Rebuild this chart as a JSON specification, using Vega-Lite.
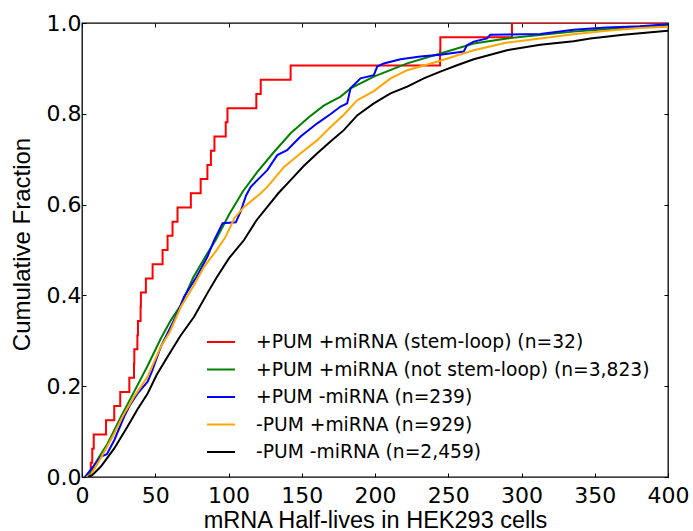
{
  "$schema": "https://vega.github.io/schema/vega-lite/v6.json",
  "width": 586,
  "height": 454,
  "autosize": {"type": "none"},
  "padding": {"left": 82, "top": 23, "right": 25, "bottom": 54},
  "background": "white",
  "config": {
    "view": {"stroke": "black", "strokeWidth": 1.3},
    "axis": {
      "labelFont": "DejaVu Sans",
      "labelFontSize": 22,
      "labelColor": "black",
      "tickColor": "black",
      "tickSize": -4,
      "tickWidth": 1,
      "domain": false,
      "grid": false,
      "labelFlush": false,
      "labelOverlap": false,
      "titleFont": "Liberation Sans",
      "titleFontSize": 24,
      "titleFontWeight": "normal",
      "titleColor": "black"
    }
  },
  "datasets": {
    "red": [
      {"series": "+PUM +miRNA (stem-loop) (n=32)", "x": 5.8, "y": 0},
      {"series": "+PUM +miRNA (stem-loop) (n=32)", "x": 6.0, "y": 0.03125},
      {"series": "+PUM +miRNA (stem-loop) (n=32)", "x": 7.0, "y": 0.0625},
      {"series": "+PUM +miRNA (stem-loop) (n=32)", "x": 8.0, "y": 0.09375},
      {"series": "+PUM +miRNA (stem-loop) (n=32)", "x": 16.4, "y": 0.125},
      {"series": "+PUM +miRNA (stem-loop) (n=32)", "x": 22.0, "y": 0.15625},
      {"series": "+PUM +miRNA (stem-loop) (n=32)", "x": 26.1, "y": 0.1875},
      {"series": "+PUM +miRNA (stem-loop) (n=32)", "x": 32.3, "y": 0.21875},
      {"series": "+PUM +miRNA (stem-loop) (n=32)", "x": 35.5, "y": 0.25},
      {"series": "+PUM +miRNA (stem-loop) (n=32)", "x": 35.7, "y": 0.28125},
      {"series": "+PUM +miRNA (stem-loop) (n=32)", "x": 37.8, "y": 0.3125},
      {"series": "+PUM +miRNA (stem-loop) (n=32)", "x": 38.2, "y": 0.34375},
      {"series": "+PUM +miRNA (stem-loop) (n=32)", "x": 40.0, "y": 0.375},
      {"series": "+PUM +miRNA (stem-loop) (n=32)", "x": 40.2, "y": 0.40625},
      {"series": "+PUM +miRNA (stem-loop) (n=32)", "x": 43.6, "y": 0.4375},
      {"series": "+PUM +miRNA (stem-loop) (n=32)", "x": 48.2, "y": 0.46875},
      {"series": "+PUM +miRNA (stem-loop) (n=32)", "x": 55.0, "y": 0.5},
      {"series": "+PUM +miRNA (stem-loop) (n=32)", "x": 58.4, "y": 0.53125},
      {"series": "+PUM +miRNA (stem-loop) (n=32)", "x": 61.8, "y": 0.5625},
      {"series": "+PUM +miRNA (stem-loop) (n=32)", "x": 65.2, "y": 0.59375},
      {"series": "+PUM +miRNA (stem-loop) (n=32)", "x": 74.3, "y": 0.625},
      {"series": "+PUM +miRNA (stem-loop) (n=32)", "x": 81.0, "y": 0.65625},
      {"series": "+PUM +miRNA (stem-loop) (n=32)", "x": 85.6, "y": 0.6875},
      {"series": "+PUM +miRNA (stem-loop) (n=32)", "x": 88.0, "y": 0.71875},
      {"series": "+PUM +miRNA (stem-loop) (n=32)", "x": 90.4, "y": 0.75},
      {"series": "+PUM +miRNA (stem-loop) (n=32)", "x": 98.1, "y": 0.78125},
      {"series": "+PUM +miRNA (stem-loop) (n=32)", "x": 99.3, "y": 0.8125},
      {"series": "+PUM +miRNA (stem-loop) (n=32)", "x": 119.0, "y": 0.84375},
      {"series": "+PUM +miRNA (stem-loop) (n=32)", "x": 122.0, "y": 0.875},
      {"series": "+PUM +miRNA (stem-loop) (n=32)", "x": 142.4, "y": 0.90625},
      {"series": "+PUM +miRNA (stem-loop) (n=32)", "x": 244.4, "y": 0.9375},
      {"series": "+PUM +miRNA (stem-loop) (n=32)", "x": 244.6, "y": 0.96875},
      {"series": "+PUM +miRNA (stem-loop) (n=32)", "x": 293.5, "y": 1.0},
      {"series": "+PUM +miRNA (stem-loop) (n=32)", "x": 400, "y": 1.0}
    ],
    "others": [
      {"series": "+PUM +miRNA (not stem-loop) (n=3,823)", "x": 3, "y": 0},
      {"series": "+PUM +miRNA (not stem-loop) (n=3,823)", "x": 5, "y": 0.005},
      {"series": "+PUM +miRNA (not stem-loop) (n=3,823)", "x": 10, "y": 0.035},
      {"series": "+PUM +miRNA (not stem-loop) (n=3,823)", "x": 17.5, "y": 0.074},
      {"series": "+PUM +miRNA (not stem-loop) (n=3,823)", "x": 26.6, "y": 0.133},
      {"series": "+PUM +miRNA (not stem-loop) (n=3,823)", "x": 35.6, "y": 0.188},
      {"series": "+PUM +miRNA (not stem-loop) (n=3,823)", "x": 44.8, "y": 0.245},
      {"series": "+PUM +miRNA (not stem-loop) (n=3,823)", "x": 53.8, "y": 0.305},
      {"series": "+PUM +miRNA (not stem-loop) (n=3,823)", "x": 60.6, "y": 0.345},
      {"series": "+PUM +miRNA (not stem-loop) (n=3,823)", "x": 67.5, "y": 0.379},
      {"series": "+PUM +miRNA (not stem-loop) (n=3,823)", "x": 76, "y": 0.44},
      {"series": "+PUM +miRNA (not stem-loop) (n=3,823)", "x": 85.6, "y": 0.493},
      {"series": "+PUM +miRNA (not stem-loop) (n=3,823)", "x": 91.3, "y": 0.522},
      {"series": "+PUM +miRNA (not stem-loop) (n=3,823)", "x": 100.4, "y": 0.578},
      {"series": "+PUM +miRNA (not stem-loop) (n=3,823)", "x": 110, "y": 0.63},
      {"series": "+PUM +miRNA (not stem-loop) (n=3,823)", "x": 119.7, "y": 0.672},
      {"series": "+PUM +miRNA (not stem-loop) (n=3,823)", "x": 130, "y": 0.712},
      {"series": "+PUM +miRNA (not stem-loop) (n=3,823)", "x": 142.4, "y": 0.757},
      {"series": "+PUM +miRNA (not stem-loop) (n=3,823)", "x": 155, "y": 0.793},
      {"series": "+PUM +miRNA (not stem-loop) (n=3,823)", "x": 165, "y": 0.818},
      {"series": "+PUM +miRNA (not stem-loop) (n=3,823)", "x": 176.5, "y": 0.838},
      {"series": "+PUM +miRNA (not stem-loop) (n=3,823)", "x": 183.3, "y": 0.856},
      {"series": "+PUM +miRNA (not stem-loop) (n=3,823)", "x": 199.2, "y": 0.882},
      {"series": "+PUM +miRNA (not stem-loop) (n=3,823)", "x": 222, "y": 0.911},
      {"series": "+PUM +miRNA (not stem-loop) (n=3,823)", "x": 244.6, "y": 0.933},
      {"series": "+PUM +miRNA (not stem-loop) (n=3,823)", "x": 267.4, "y": 0.955},
      {"series": "+PUM +miRNA (not stem-loop) (n=3,823)", "x": 290.1, "y": 0.966},
      {"series": "+PUM +miRNA (not stem-loop) (n=3,823)", "x": 335.5, "y": 0.981},
      {"series": "+PUM +miRNA (not stem-loop) (n=3,823)", "x": 380.8, "y": 0.992},
      {"series": "+PUM +miRNA (not stem-loop) (n=3,823)", "x": 400, "y": 0.995},

      {"series": "+PUM -miRNA (n=239)", "x": 2, "y": 0},
      {"series": "+PUM -miRNA (n=239)", "x": 4, "y": 0.008},
      {"series": "+PUM -miRNA (n=239)", "x": 8.4, "y": 0.026},
      {"series": "+PUM -miRNA (n=239)", "x": 12.9, "y": 0.045},
      {"series": "+PUM -miRNA (n=239)", "x": 17, "y": 0.05},
      {"series": "+PUM -miRNA (n=239)", "x": 22, "y": 0.081},
      {"series": "+PUM -miRNA (n=239)", "x": 28.8, "y": 0.133},
      {"series": "+PUM -miRNA (n=239)", "x": 33, "y": 0.16},
      {"series": "+PUM -miRNA (n=239)", "x": 38, "y": 0.184},
      {"series": "+PUM -miRNA (n=239)", "x": 44.8, "y": 0.21},
      {"series": "+PUM -miRNA (n=239)", "x": 48, "y": 0.235},
      {"series": "+PUM -miRNA (n=239)", "x": 53.8, "y": 0.287},
      {"series": "+PUM -miRNA (n=239)", "x": 60.6, "y": 0.331},
      {"series": "+PUM -miRNA (n=239)", "x": 65, "y": 0.36},
      {"series": "+PUM -miRNA (n=239)", "x": 69.7, "y": 0.397},
      {"series": "+PUM -miRNA (n=239)", "x": 78, "y": 0.44},
      {"series": "+PUM -miRNA (n=239)", "x": 85.6, "y": 0.485},
      {"series": "+PUM -miRNA (n=239)", "x": 90, "y": 0.52},
      {"series": "+PUM -miRNA (n=239)", "x": 94.7, "y": 0.551},
      {"series": "+PUM -miRNA (n=239)", "x": 96, "y": 0.559},
      {"series": "+PUM -miRNA (n=239)", "x": 105, "y": 0.561},
      {"series": "+PUM -miRNA (n=239)", "x": 108.3, "y": 0.585},
      {"series": "+PUM -miRNA (n=239)", "x": 112, "y": 0.62},
      {"series": "+PUM -miRNA (n=239)", "x": 115.2, "y": 0.639},
      {"series": "+PUM -miRNA (n=239)", "x": 120, "y": 0.655},
      {"series": "+PUM -miRNA (n=239)", "x": 126.5, "y": 0.676},
      {"series": "+PUM -miRNA (n=239)", "x": 133.3, "y": 0.709},
      {"series": "+PUM -miRNA (n=239)", "x": 140, "y": 0.72},
      {"series": "+PUM -miRNA (n=239)", "x": 149.2, "y": 0.75},
      {"series": "+PUM -miRNA (n=239)", "x": 160.6, "y": 0.779},
      {"series": "+PUM -miRNA (n=239)", "x": 170, "y": 0.8},
      {"series": "+PUM -miRNA (n=239)", "x": 176.5, "y": 0.816},
      {"series": "+PUM -miRNA (n=239)", "x": 181, "y": 0.823},
      {"series": "+PUM -miRNA (n=239)", "x": 183.3, "y": 0.856},
      {"series": "+PUM -miRNA (n=239)", "x": 190.1, "y": 0.878},
      {"series": "+PUM -miRNA (n=239)", "x": 199.2, "y": 0.885},
      {"series": "+PUM -miRNA (n=239)", "x": 201.5, "y": 0.904},
      {"series": "+PUM -miRNA (n=239)", "x": 206, "y": 0.911},
      {"series": "+PUM -miRNA (n=239)", "x": 217.4, "y": 0.92},
      {"series": "+PUM -miRNA (n=239)", "x": 231, "y": 0.926},
      {"series": "+PUM -miRNA (n=239)", "x": 244.6, "y": 0.93},
      {"series": "+PUM -miRNA (n=239)", "x": 260.5, "y": 0.937},
      {"series": "+PUM -miRNA (n=239)", "x": 262.8, "y": 0.951},
      {"series": "+PUM -miRNA (n=239)", "x": 267.4, "y": 0.959},
      {"series": "+PUM -miRNA (n=239)", "x": 276.5, "y": 0.966},
      {"series": "+PUM -miRNA (n=239)", "x": 278.7, "y": 0.974},
      {"series": "+PUM -miRNA (n=239)", "x": 312.8, "y": 0.976},
      {"series": "+PUM -miRNA (n=239)", "x": 335.5, "y": 0.985},
      {"series": "+PUM -miRNA (n=239)", "x": 358, "y": 0.99},
      {"series": "+PUM -miRNA (n=239)", "x": 380.8, "y": 0.993},
      {"series": "+PUM -miRNA (n=239)", "x": 400, "y": 0.997},

      {"series": "-PUM +miRNA (n=929)", "x": 3, "y": 0},
      {"series": "-PUM +miRNA (n=929)", "x": 6, "y": 0.005},
      {"series": "-PUM +miRNA (n=929)", "x": 10.7, "y": 0.03},
      {"series": "-PUM +miRNA (n=929)", "x": 16, "y": 0.06},
      {"series": "-PUM +miRNA (n=929)", "x": 22, "y": 0.096},
      {"series": "-PUM +miRNA (n=929)", "x": 28, "y": 0.135},
      {"series": "-PUM +miRNA (n=929)", "x": 35.6, "y": 0.177},
      {"series": "-PUM +miRNA (n=929)", "x": 44.8, "y": 0.221},
      {"series": "-PUM +miRNA (n=929)", "x": 53.8, "y": 0.287},
      {"series": "-PUM +miRNA (n=929)", "x": 60, "y": 0.32},
      {"series": "-PUM +miRNA (n=929)", "x": 67.5, "y": 0.375},
      {"series": "-PUM +miRNA (n=929)", "x": 76, "y": 0.42},
      {"series": "-PUM +miRNA (n=929)", "x": 83.3, "y": 0.463},
      {"series": "-PUM +miRNA (n=929)", "x": 92, "y": 0.5},
      {"series": "-PUM +miRNA (n=929)", "x": 98, "y": 0.529},
      {"series": "-PUM +miRNA (n=929)", "x": 104, "y": 0.57},
      {"series": "-PUM +miRNA (n=929)", "x": 110.6, "y": 0.595},
      {"series": "-PUM +miRNA (n=929)", "x": 122, "y": 0.625},
      {"series": "-PUM +miRNA (n=929)", "x": 126.5, "y": 0.639},
      {"series": "-PUM +miRNA (n=929)", "x": 137.9, "y": 0.683},
      {"series": "-PUM +miRNA (n=929)", "x": 148, "y": 0.71},
      {"series": "-PUM +miRNA (n=929)", "x": 160.6, "y": 0.742},
      {"series": "-PUM +miRNA (n=929)", "x": 170, "y": 0.772},
      {"series": "-PUM +miRNA (n=929)", "x": 178.7, "y": 0.798},
      {"series": "-PUM +miRNA (n=929)", "x": 187.9, "y": 0.83},
      {"series": "-PUM +miRNA (n=929)", "x": 199.2, "y": 0.85},
      {"series": "-PUM +miRNA (n=929)", "x": 210.6, "y": 0.878},
      {"series": "-PUM +miRNA (n=929)", "x": 222, "y": 0.896},
      {"series": "-PUM +miRNA (n=929)", "x": 244.6, "y": 0.917},
      {"series": "-PUM +miRNA (n=929)", "x": 267.4, "y": 0.94},
      {"series": "-PUM +miRNA (n=929)", "x": 290.1, "y": 0.957},
      {"series": "-PUM +miRNA (n=929)", "x": 312.8, "y": 0.966},
      {"series": "-PUM +miRNA (n=929)", "x": 335.5, "y": 0.975},
      {"series": "-PUM +miRNA (n=929)", "x": 358.2, "y": 0.983},
      {"series": "-PUM +miRNA (n=929)", "x": 380.8, "y": 0.989},
      {"series": "-PUM +miRNA (n=929)", "x": 400, "y": 0.992},

      {"series": "-PUM -miRNA (n=2,459)", "x": 4, "y": 0},
      {"series": "-PUM -miRNA (n=2,459)", "x": 7, "y": 0.004},
      {"series": "-PUM -miRNA (n=2,459)", "x": 12.9, "y": 0.023},
      {"series": "-PUM -miRNA (n=2,459)", "x": 22, "y": 0.063},
      {"series": "-PUM -miRNA (n=2,459)", "x": 31.1, "y": 0.111},
      {"series": "-PUM -miRNA (n=2,459)", "x": 38, "y": 0.15},
      {"series": "-PUM -miRNA (n=2,459)", "x": 44.8, "y": 0.184},
      {"series": "-PUM -miRNA (n=2,459)", "x": 51, "y": 0.225},
      {"series": "-PUM -miRNA (n=2,459)", "x": 58.4, "y": 0.265},
      {"series": "-PUM -miRNA (n=2,459)", "x": 67, "y": 0.31},
      {"series": "-PUM -miRNA (n=2,459)", "x": 76.5, "y": 0.353},
      {"series": "-PUM -miRNA (n=2,459)", "x": 85.6, "y": 0.405},
      {"series": "-PUM -miRNA (n=2,459)", "x": 92, "y": 0.44},
      {"series": "-PUM -miRNA (n=2,459)", "x": 100.4, "y": 0.482},
      {"series": "-PUM -miRNA (n=2,459)", "x": 110.6, "y": 0.522},
      {"series": "-PUM -miRNA (n=2,459)", "x": 119, "y": 0.565},
      {"series": "-PUM -miRNA (n=2,459)", "x": 126.5, "y": 0.595},
      {"series": "-PUM -miRNA (n=2,459)", "x": 134, "y": 0.625},
      {"series": "-PUM -miRNA (n=2,459)", "x": 142.4, "y": 0.654},
      {"series": "-PUM -miRNA (n=2,459)", "x": 151, "y": 0.684},
      {"series": "-PUM -miRNA (n=2,459)", "x": 160.6, "y": 0.713},
      {"series": "-PUM -miRNA (n=2,459)", "x": 170, "y": 0.74},
      {"series": "-PUM -miRNA (n=2,459)", "x": 178.7, "y": 0.764},
      {"series": "-PUM -miRNA (n=2,459)", "x": 188, "y": 0.797},
      {"series": "-PUM -miRNA (n=2,459)", "x": 199.2, "y": 0.823},
      {"series": "-PUM -miRNA (n=2,459)", "x": 210.6, "y": 0.845},
      {"series": "-PUM -miRNA (n=2,459)", "x": 222, "y": 0.86},
      {"series": "-PUM -miRNA (n=2,459)", "x": 233.3, "y": 0.878},
      {"series": "-PUM -miRNA (n=2,459)", "x": 244.6, "y": 0.893},
      {"series": "-PUM -miRNA (n=2,459)", "x": 256, "y": 0.907},
      {"series": "-PUM -miRNA (n=2,459)", "x": 267.4, "y": 0.92},
      {"series": "-PUM -miRNA (n=2,459)", "x": 290.1, "y": 0.94},
      {"series": "-PUM -miRNA (n=2,459)", "x": 312.8, "y": 0.952},
      {"series": "-PUM -miRNA (n=2,459)", "x": 335.5, "y": 0.96},
      {"series": "-PUM -miRNA (n=2,459)", "x": 347, "y": 0.966},
      {"series": "-PUM -miRNA (n=2,459)", "x": 369.5, "y": 0.974},
      {"series": "-PUM -miRNA (n=2,459)", "x": 400, "y": 0.983}
    ]
  },
  "layer": [
    {
      "data": {"name": "red"},
      "mark": {"type": "line", "interpolate": "step-after", "strokeWidth": 2, "clip": true},
      "encoding": {
        "x": {"field": "x", "type": "quantitative", "scale": {"domain": [0, 400], "nice": false},
          "axis": {"orient": "bottom", "title": "mRNA Half-lives in HEK293 cells", "titleFontSize": 23.5, "values": [0, 50, 100, 150, 200, 250, 300, 350, 400], "format": "d", "labelPadding": 12, "titlePadding": 2}},
        "y": {"field": "y", "type": "quantitative", "scale": {"domain": [0, 1], "nice": false},
          "axis": {"orient": "left", "title": "Cumulative Fraction", "values": [0, 0.2, 0.4, 0.6, 0.8, 1.0], "format": ".1f", "labelPadding": 5, "titlePadding": 12, "titleY": 221}},
        "color": {"field": "series", "type": "nominal",
          "scale": {"domain": ["+PUM +miRNA (stem-loop) (n=32)", "+PUM +miRNA (not stem-loop) (n=3,823)", "+PUM -miRNA (n=239)", "-PUM +miRNA (n=929)", "-PUM -miRNA (n=2,459)"],
                    "range": ["#ff0000", "#008000", "#0000ff", "#ffa500", "#000000"]},
          "legend": {"orient": "none", "legendX": 124, "legendY": 304, "title": null, "symbolType": "stroke", "symbolSize": 784, "symbolStrokeWidth": 2, "labelFont": "DejaVu Sans", "labelFontSize": 18.7, "labelColor": "black", "rowPadding": 2.5, "labelOffset": 20, "labelLimit": 500}}
      }
    },
    {
      "data": {"name": "others"},
      "mark": {"type": "line", "strokeWidth": 2, "clip": true},
      "encoding": {
        "x": {"field": "x", "type": "quantitative", "axis": null},
        "y": {"field": "y", "type": "quantitative", "axis": null},
        "color": {"field": "series", "type": "nominal"}
      }
    },
    {
      "data": {"name": "others"},
      "mark": {"type": "point", "opacity": 0},
      "encoding": {
        "x": {"field": "x", "type": "quantitative", "axis": {"orient": "top", "labels": false, "title": null, "values": [0, 50, 100, 150, 200, 250, 300, 350, 400]}},
        "y": {"field": "y", "type": "quantitative", "axis": {"orient": "right", "labels": false, "title": null, "values": [0, 0.2, 0.4, 0.6, 0.8, 1.0]}}
      }
    }
  ],
  "resolve": {"axis": {"x": "independent", "y": "independent"}}
}
